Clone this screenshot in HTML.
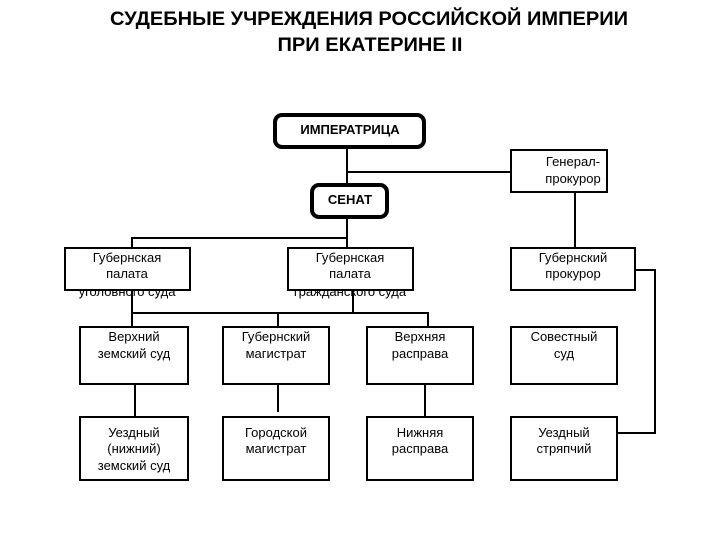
<!DOCTYPE html>
<html><head><meta charset="utf-8"><style>
body{margin:0;background:#fff;width:720px;height:540px;overflow:hidden}
svg{display:block}
text{font-family:"Liberation Sans",sans-serif;font-size:13px;fill:#000}
</style></head><body>
<svg width="720" height="540" viewBox="0 0 720 540">
<g fill="#d4121a" style="font-weight:bold;font-size:19px" text-anchor="middle">
<text x="369" y="25" fill="#d4121a" style="font-weight:bold;font-size:19px" textLength="518" lengthAdjust="spacingAndGlyphs">СУДЕБНЫЕ УЧРЕЖДЕНИЯ РОССИЙСКОЙ ИМПЕРИИ</text>
<text x="370" y="51" fill="#d4121a" style="font-weight:bold;font-size:19px" textLength="185" lengthAdjust="spacingAndGlyphs">ПРИ ЕКАТЕРИНЕ II</text>
</g>
<g stroke="#000" stroke-width="2" fill="none">
<line x1="347" y1="148" x2="347" y2="183"/>
<line x1="347" y1="172" x2="511" y2="172"/>
<line x1="575" y1="192" x2="575" y2="248"/>
<line x1="347" y1="218" x2="347" y2="248"/>
<polyline points="132,248 132,238 347,238"/>
<line x1="132" y1="290" x2="132" y2="327"/>
<line x1="353" y1="290" x2="353" y2="313"/>
<polyline points="132,313 428,313 428,327"/>
<line x1="278" y1="313" x2="278" y2="327"/>
<line x1="135" y1="384" x2="135" y2="417"/>
<line x1="278" y1="384" x2="278" y2="412"/>
<line x1="425" y1="384" x2="425" y2="417"/>
<polyline points="635,270 655,270 655,433 607,433"/>
</g>
<g stroke="#000" stroke-width="4" fill="#fff">
<rect x="275" y="115" width="149" height="32" rx="7"/>
<rect x="312" y="185" width="75" height="32" rx="7"/>
</g>
<g stroke="#000" stroke-width="2" fill="#fff">
<rect x="511" y="150" width="96" height="42"/>
<rect x="65" y="248" width="125" height="42"/>
<rect x="288" y="248" width="125" height="42"/>
<rect x="511" y="248" width="124" height="42"/>
<rect x="80" y="327" width="108" height="57"/>
<rect x="223" y="327" width="106" height="57"/>
<rect x="367" y="327" width="106" height="57"/>
<rect x="511" y="327" width="106" height="57"/>
<rect x="80" y="417" width="108" height="63"/>
<rect x="223" y="417" width="106" height="63"/>
<rect x="367" y="417" width="106" height="63"/>
<rect x="511" y="417" width="106" height="63"/>
</g>
<g text-anchor="middle">
<text x="350" y="134" style="font-weight:bold">ИМПЕРАТРИЦА</text>
<text x="350" y="204" style="font-weight:bold">СЕНАТ</text>
<text x="573" y="166">Генерал-</text><text x="573" y="183">прокурор</text>
<text x="127" y="262">Губернская</text><text x="127" y="278">палата</text><text x="127" y="296">уголовного суда</text>
<text x="350" y="262">Губернская</text><text x="350" y="278">палата</text><text x="350" y="296">гражданского суда</text>
<text x="573" y="262">Губернский</text><text x="573" y="278">прокурор</text>
<text x="134" y="341">Верхний</text><text x="134" y="358">земский суд</text>
<text x="276" y="341">Губернский</text><text x="276" y="358">магистрат</text>
<text x="420" y="341">Верхняя</text><text x="420" y="358">расправа</text>
<text x="564" y="341">Совестный</text><text x="564" y="358">суд</text>
<text x="134" y="437">Уездный</text><text x="134" y="453">(нижний)</text><text x="134" y="470">земский суд</text>
<text x="276" y="437">Городской</text><text x="276" y="453">магистрат</text>
<text x="420" y="437">Нижняя</text><text x="420" y="453">расправа</text>
<text x="564" y="437">Уездный</text><text x="564" y="453">стряпчий</text>
</g>
</svg>
</body></html>
